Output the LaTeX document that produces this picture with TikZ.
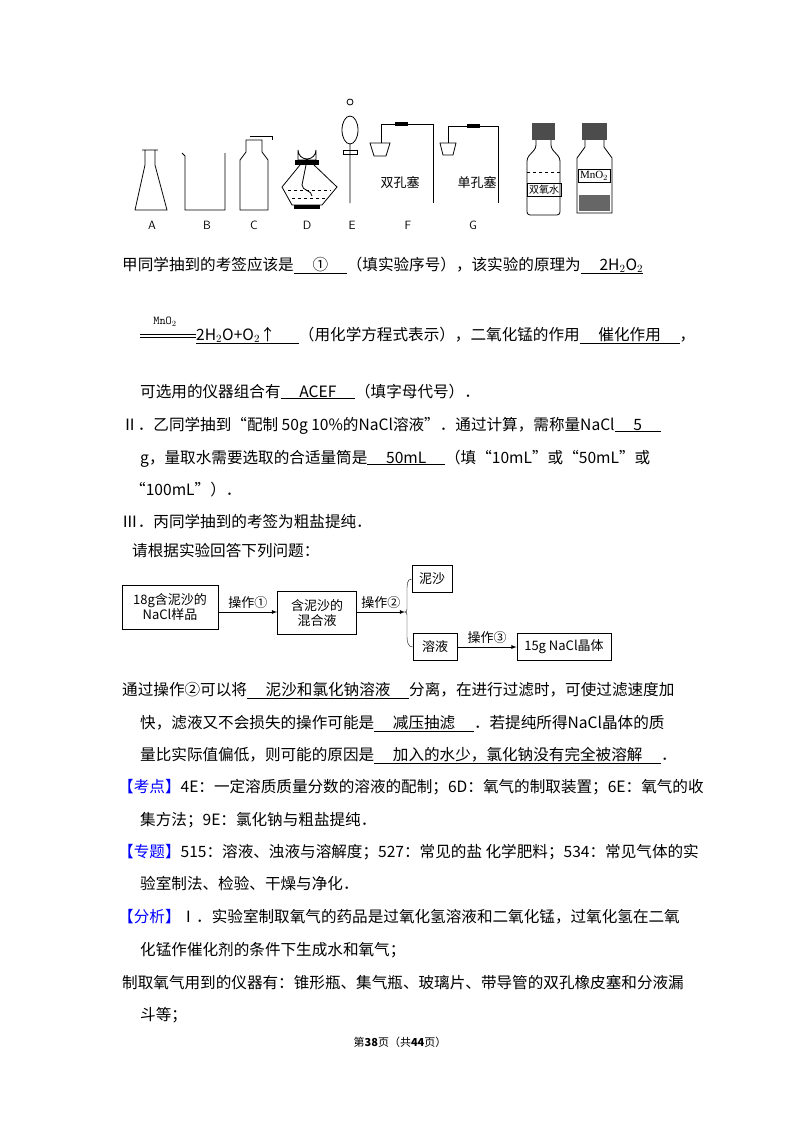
\documentclass[tikz,border=0pt]{standalone}
\usepackage{fontspec}
\setmainfont{Liberation Serif}
\newfontfamily\cjk{Noto Sans CJK SC}
\newcommand{\ul}[1]{\underline{\hspace{1.2em}#1\hspace{1.2em}}}
\tikzset{
  line/.style={anchor=base west, inner sep=0pt, font=\fontsize{15.6}{18}\selectfont\cjk},
  opbox/.style={draw, thick, align=center, font=\fontsize{13}{15}\selectfont\cjk, inner sep=3pt},
  glass/.style={line width=0.8pt},
  lab/.style={font=\fontsize{12}{14}\selectfont\sffamily},
  flow/.style={thick, -latex},
}
\begin{document}
\begin{tikzpicture}[x=1pt, y=-1pt]
\useasboundingbox[fill=white] (0,0) rectangle (800,1132);

% apparatus
\draw[glass] (142,150) -- (158,150) (145,150) -- (145,165) -- (135,210) -- (167,210) -- (155,165) -- (155,150);
\node[lab] (labA) at (152,225) {A};
\draw[glass] (182,153) -- (185,156) -- (185,210) -- (225,210) -- (225,153);
\node[lab] (labB) at (207,225) {B};
\draw[glass] (240,210) -- (240,160) -- (246,152) -- (246,140) -- (262,140) -- (262,152) -- (268,160) -- (268,210) -- cycle;
\draw[glass] (250,136) -- (272,136) -- (272,140);
\node[lab] (labC) at (254,225) {C};
\draw[glass] (298,150) arc (180:0:9) -- (316,160) -- (298,160) -- cycle;
\fill (295,160) rectangle (319,165);
\draw[glass] (300,165) -- (282,187) -- (292,205) -- (322,205) -- (337,187) -- (314,165);
\draw[dashed] (288,190) -- (331,190) (292,198) -- (326,198);
\draw[thick] (306,165) -- (302,185) to[out=-90,in=90] (312,196);
\fill (294,205) rectangle (320,209);
\node[lab] (labD) at (307,225) {D};
\draw[glass] (350,102) circle (3) (350,130) ellipse (8 and 14) (350,144) -- (350,203);
\draw[glass] (343,150) rectangle (357,154);
\node[lab] (labE) at (352,225) {E};
\draw[glass] (370,143) -- (390,143) -- (386,156) -- (374,156) -- cycle;
\draw[glass] (381,143) -- (381,124) -- (433,124) -- (433,203);
\fill (395,122) rectangle (408,126);
\node[line, anchor=center, font=\fontsize{13}{15}\selectfont\cjk] (twohole) at (400,183) {双孔塞};
\node[lab] (labF) at (408,225) {F};
\draw[glass] (440,143) -- (456,143) -- (453,155) -- (443,155) -- cycle;
\draw[glass] (448,143) -- (448,126) -- (498,126) -- (498,203);
\fill (467,124) rectangle (480,128);
\node[line, anchor=center, font=\fontsize{13}{15}\selectfont\cjk] (onehole) at (477,183) {单孔塞};
\node[lab] (labG) at (473,225) {G};
\fill[black!70] (532,123) rectangle (555,140);
\draw[glass, rounded corners=3] (536,140) -- (536,148) -- (527,158) -- (527,215) -- (560,215) -- (560,158) -- (551,148) -- (551,140);
\draw[dashed] (527,172) -- (560,172);
\node[draw, font=\fontsize{10}{12}\selectfont\cjk, inner sep=2pt] (h2o2) at (544,190) {双氧水};
\fill[black!70] (582,123) rectangle (607,140);
\draw[glass] (585,140) -- (585,147) -- (577,158) -- (577,213) -- (612,213) -- (612,158) -- (604,147) -- (604,140);
\node[draw, font=\fontsize{11}{12}\selectfont, inner sep=2pt] (mno2) at (594,176) {MnO$_2$};
\fill[black!60] (579,195) rectangle (610,211);

% text
\node[line] (l1) at (122,270) {甲同学抽到的考签应该是\ul{①}（填实验序号），该实验的原理为\underline{\hspace{1.2em}2H$_2$O$_2$}};
\node[font=\fontsize{12}{13}\selectfont\ttfamily] (cat) at (165,322) {MnO$_2$};
\draw (140,334) -- (196,334) (140,337) -- (196,337);
\node[line, anchor=base west] (l2) at (196,340) {\underline{2H$_2$O+O$_2$↑\hspace{1.5em}}（用化学方程式表示），二氧化锰的作用\ul{催化作用}，};
\node[line] (l3) at (140,397) {可选用的仪器组合有\ul{ACEF}（填字母代号）．};
\node[line] (l4) at (122,430) {Ⅱ．乙同学抽到“配制 50g 10\%的NaCl溶液”．通过计算，需称量NaCl\ul{5}};
\node[line] (l5) at (140,463) {g，量取水需要选取的合适量筒是\ul{50mL}（填“10mL”或“50mL”或};
\node[line] (l6) at (130,495) {“100mL”）．};
\node[line] (l7) at (122,527) {Ⅲ．丙同学抽到的考签为粗盐提纯．};
\node[line] (l8) at (132,556) {请根据实验回答下列问题：};

% flowchart
\node[opbox, minimum width=96, minimum height=44] (sample) at (170,607) {18g含泥沙的\\NaCl样品};
\node[opbox, minimum width=79, minimum height=43] (mix) at (317,613) {含泥沙的\\混合液};
\coordinate (split) at (405,612);
\node[opbox, minimum width=40, minimum height=27] (sand) at (432,579) {泥沙};
\node[opbox, minimum width=44, minimum height=27] (sol) at (435,647) {溶液};
\node[opbox, minimum width=94, minimum height=27] (salt) at (564,647) {15g NaCl晶体};
\draw[flow] (sample.east |- 0,612) -- node[above, font=\fontsize{13}{15}\selectfont\cjk] (op1) {操作①} (mix.west |- 0,612);
\draw[flow] (mix.east |- split) -- node[above, font=\fontsize{13}{15}\selectfont\cjk] (op2) {操作②} (split);
\draw (sand.west) to[out=180,in=90] (407,590) -- (407,606) to[out=-90,in=0] (split) to[out=0,in=90] (407,618) -- (407,637) to[out=-90,in=180] (sol.west);
\draw[flow] (sol) -- node[above, font=\fontsize{13}{15}\selectfont\cjk] (op3) {操作③} (salt);

\node[line] (l9) at (122,695) {通过操作②可以将\ul{泥沙和氯化钠溶液}分离，在进行过滤时，可使过滤速度加};
\node[line] (l10) at (140,728) {快，滤液又不会损失的操作可能是\ul{减压抽滤}．若提纯所得NaCl晶体的质};
\node[line] (l11) at (140,760) {量比实际值偏低，则可能的原因是\ul{加入的水少，氯化钠没有完全被溶解}．};
\node[line] (l12) at (118,792) {\textcolor{blue}{【考点】}4E：一定溶质质量分数的溶液的配制；6D：氧气的制取装置；6E：氧气的收};
\node[line] (l13) at (140,825) {集方法；9E：氯化钠与粗盐提纯．};
\node[line] (l14) at (118,857) {\textcolor{blue}{【专题】}515：溶液、浊液与溶解度；527：常见的盐 化学肥料；534：常见气体的实};
\node[line] (l15) at (140,889) {验室制法、检验、干燥与净化．};
\node[line] (l16) at (118,922) {\textcolor{blue}{【分析】}Ⅰ．实验室制取氧气的药品是过氧化氢溶液和二氧化锰，过氧化氢在二氧};
\node[line] (l17) at (140,955) {化锰作催化剂的条件下生成水和氧气；};
\node[line] (l18) at (122,988) {制取氧气用到的仪器有：锥形瓶、集气瓶、玻璃片、带导管的双孔橡皮塞和分液漏};
\node[line] (l19) at (140,1020) {斗等；};
\node[font=\fontsize{11}{13}\selectfont\cjk] (footer) at (400,1042) {第\textbf{38}页（共\textbf{44}页）};
\end{tikzpicture}
\end{document}
